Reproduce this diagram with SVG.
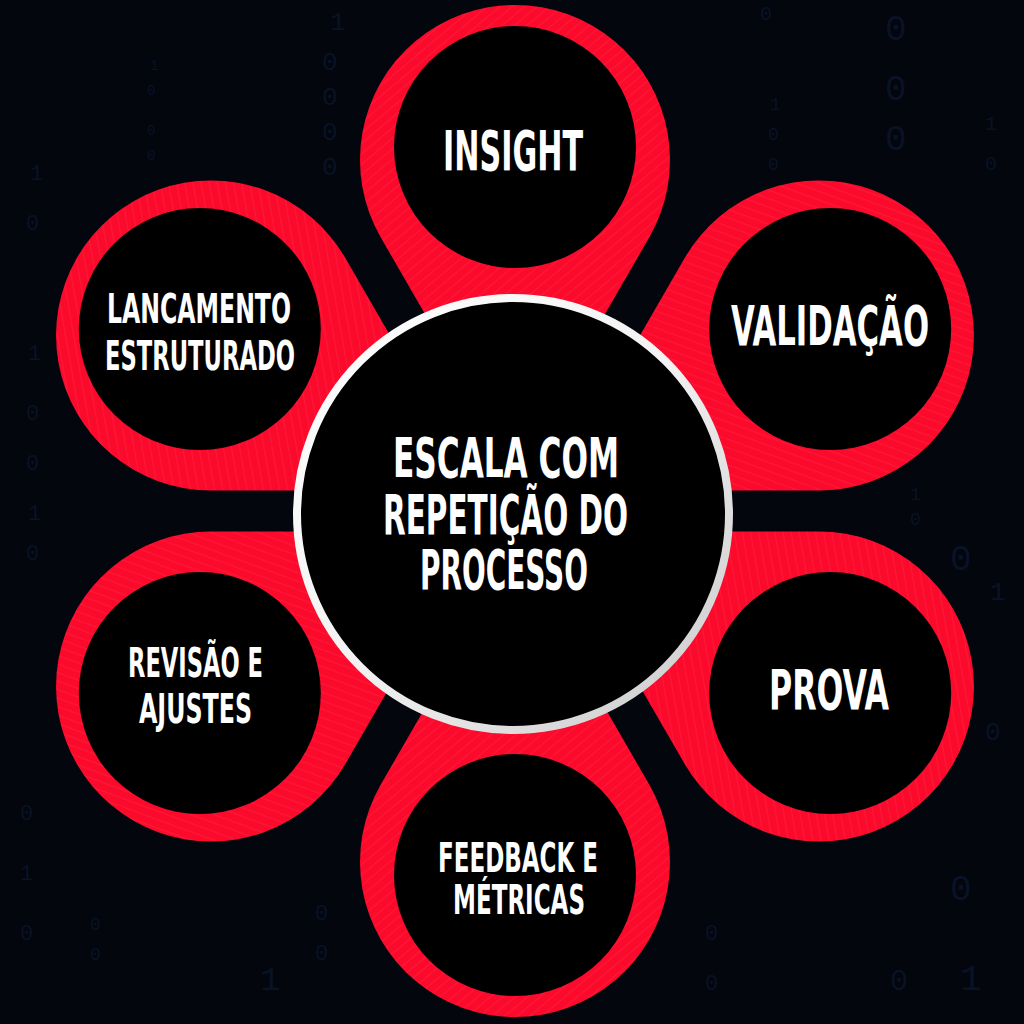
<svg xmlns="http://www.w3.org/2000/svg" xmlns:xlink="http://www.w3.org/1999/xlink" width="1024" height="1024" viewBox="0 0 1024 1024">
  <style>
    .bg { fill: #03060c; }
    .digits { font-family: "Liberation Mono", "DejaVu Sans Mono", monospace; fill: #0b1730; }
    .red { fill: url(#stripe); }
    .inner { fill: #000000; }
    .lbl { font-family: "Liberation Sans Narrow", "DejaVu Sans Condensed", "Liberation Sans", sans-serif; font-weight: bold; fill: #ffffff; text-anchor: middle; }
    .big { font-size: 56px; }
    .small { font-size: 41px; }
  </style>
  <defs>
    <pattern id="stripe" patternUnits="userSpaceOnUse" width="8" height="8" patternTransform="rotate(-40)">
      <rect width="8" height="8" fill="#fb0a2c"/>
      <rect width="8" height="1.2" fill="#ff2a48" opacity="0.45"/>
    </pattern>
    <linearGradient id="ring" x1="0" y1="0" x2="1" y2="1">
      <stop offset="0" stop-color="#ffffff"/>
      <stop offset="0.5" stop-color="#f2f2f2"/>
      <stop offset="1" stop-color="#c9c9c9"/>
    </linearGradient>
    <path id="drop" d="M 134.2 77.5 A 155 155 0 1 0 -134.2 77.5 L 0 310 Z"/>
  </defs>

  <rect class="bg" x="0" y="0" width="1024" height="1024"/>

  <g id="background-digits" class="digits" opacity="0.75">
    <text x="330" y="30" font-size="26">1</text>
    <text x="322" y="70" font-size="26">0</text>
    <text x="322" y="105" font-size="26">0</text>
    <text x="322" y="140" font-size="26">0</text>
    <text x="322" y="175" font-size="26">0</text>
    <text x="150" y="70" font-size="14">1</text>
    <text x="147" y="95" font-size="14">0</text>
    <text x="147" y="135" font-size="14">0</text>
    <text x="147" y="160" font-size="14">0</text>
    <text x="30" y="180" font-size="22">1</text>
    <text x="26" y="230" font-size="22">0</text>
    <text x="28" y="360" font-size="22">1</text>
    <text x="26" y="420" font-size="22">0</text>
    <text x="26" y="470" font-size="22">0</text>
    <text x="28" y="520" font-size="22">1</text>
    <text x="26" y="560" font-size="22">0</text>
    <text x="760" y="20" font-size="20">0</text>
    <text x="770" y="110" font-size="18">1</text>
    <text x="768" y="140" font-size="18">0</text>
    <text x="768" y="170" font-size="18">0</text>
    <text x="885" y="40" font-size="36">0</text>
    <text x="885" y="100" font-size="36">0</text>
    <text x="885" y="150" font-size="36">0</text>
    <text x="985" y="130" font-size="20">1</text>
    <text x="985" y="170" font-size="20">0</text>
    <text x="910" y="500" font-size="18">1</text>
    <text x="910" y="525" font-size="18">0</text>
    <text x="950" y="570" font-size="36">0</text>
    <text x="990" y="600" font-size="26">1</text>
    <text x="985" y="740" font-size="26">0</text>
    <text x="950" y="900" font-size="36">0</text>
    <text x="960" y="990" font-size="36">1</text>
    <text x="890" y="990" font-size="30">0</text>
    <text x="20" y="820" font-size="22">0</text>
    <text x="20" y="880" font-size="22">1</text>
    <text x="20" y="940" font-size="22">0</text>
    <text x="90" y="930" font-size="18">0</text>
    <text x="90" y="960" font-size="18">0</text>
    <text x="260" y="990" font-size="34">1</text>
    <text x="315" y="920" font-size="22">0</text>
    <text x="315" y="960" font-size="22">0</text>
    <text x="705" y="940" font-size="22">0</text>
    <text x="705" y="990" font-size="22">0</text>
  </g>

  <g id="node-insight">
    <use href="#drop" class="red" transform="translate(515,160)"/>
    <circle class="inner" cx="515" cy="147" r="121"/>
    <text class="lbl big" x="513" y="170" textLength="140" lengthAdjust="spacingAndGlyphs">INSIGHT</text>
  </g>

  <g id="node-validacao">
    <use href="#drop" class="red" transform="translate(818.9,335.5) rotate(60)"/>
    <circle class="inner" cx="830.2" cy="329" r="121"/>
    <text class="lbl big" x="830" y="345" textLength="198" lengthAdjust="spacingAndGlyphs">VALIDAÇÃO</text>
  </g>

  <g id="node-prova">
    <use href="#drop" class="red" transform="translate(818.9,686.5) rotate(120)"/>
    <circle class="inner" cx="830.2" cy="693" r="121"/>
    <text class="lbl big" x="829" y="709" textLength="120" lengthAdjust="spacingAndGlyphs">PROVA</text>
  </g>

  <g id="node-feedback">
    <use href="#drop" class="red" transform="translate(515,862) rotate(180)"/>
    <circle class="inner" cx="515" cy="875" r="121"/>
    <text class="lbl small" x="518" y="872" textLength="160" lengthAdjust="spacingAndGlyphs">FEEDBACK E</text>
    <text class="lbl small" x="519" y="914" textLength="132" lengthAdjust="spacingAndGlyphs">MÉTRICAS</text>
  </g>

  <g id="node-revisao">
    <use href="#drop" class="red" transform="translate(211.1,686.5) rotate(-120)"/>
    <circle class="inner" cx="199.8" cy="693" r="121"/>
    <text class="lbl small" x="195.5" y="677" textLength="135" lengthAdjust="spacingAndGlyphs">REVISÃO E</text>
    <text class="lbl small" x="195.5" y="723" textLength="113" lengthAdjust="spacingAndGlyphs">AJUSTES</text>
  </g>

  <g id="node-lancamento">
    <use href="#drop" class="red" transform="translate(211.1,335.5) rotate(-60)"/>
    <circle class="inner" cx="199.8" cy="329" r="121"/>
    <text class="lbl small" x="199" y="323" textLength="184" lengthAdjust="spacingAndGlyphs">LANCAMENTO</text>
    <text class="lbl small" x="200" y="370" textLength="190" lengthAdjust="spacingAndGlyphs">ESTRUTURADO</text>
  </g>

  <g id="connectors"></g>

  <g id="node-center">
    <circle cx="513" cy="514" r="216" fill="#000000" stroke="url(#ring)" stroke-width="8"/>
    <text class="lbl big" x="506" y="477" textLength="226" lengthAdjust="spacingAndGlyphs">ESCALA COM</text>
    <text class="lbl big" x="505.5" y="534" textLength="245" lengthAdjust="spacingAndGlyphs">REPETIÇÃO DO</text>
    <text class="lbl big" x="504" y="589" textLength="168" lengthAdjust="spacingAndGlyphs">PROCESSO</text>
  </g>
</svg>
